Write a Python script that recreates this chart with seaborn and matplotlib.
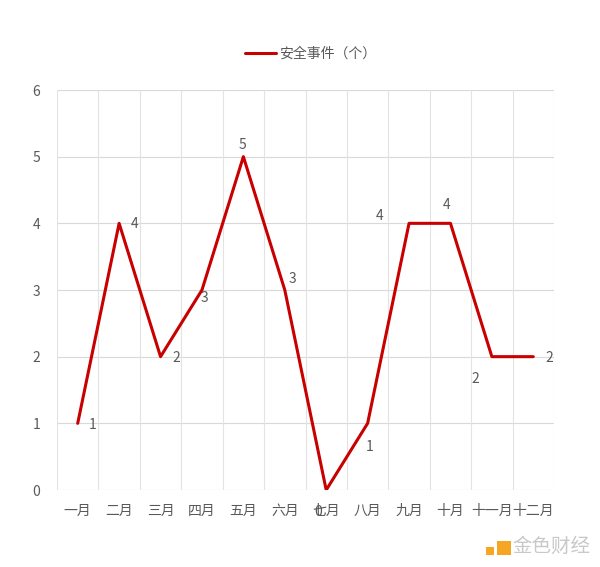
import matplotlib
matplotlib.use("Agg")
import matplotlib.pyplot as plt
import seaborn as sns
import pandas as pd
from matplotlib.patches import Rectangle

months = ["一月", "二月", "三月", "四月", "五月", "六月", "七月", "八月", "九月", "十月", "十一月", "十二月"]
events = [1, 4, 2, 3, 5, 3, 0, 1, 4, 4, 2, 2]
series_name = "安全事件（个）"
y_ticks = [0, 1, 2, 3, 4, 5, 6]

# label offsets in pixels (dx, dy) relative to each point
label_offsets = [(15, -2), (15, -1), (16, -1), (2, -8), (-1, 12), (8, 11),
                 (-8, -22), (2, -24), (-29, 7), (-4, 18), (-17, -22), (16, -1)]

sns.set_theme(style="white")
plt.rcParams['font.family'] = ['Noto Sans CJK SC', 'DejaVu Sans']

df = pd.DataFrame({"month": months, "value": events})

fig = plt.figure(figsize=(6, 5.67), dpi=100)
ax = fig.add_axes([57/600, 1-490/567, (554-57)/600, 400/567])

sns.lineplot(data=df, x="month", y="value", ax=ax, color="#C80000", linewidth=2.2,
             sort=False, label=series_name)

ax.set_xlim(-0.5, len(months) - 0.5)
ax.set_ylim(0, 6)
ax.set_yticks(y_ticks)
ax.set_yticklabels([str(t) for t in y_ticks])
ax.set_xticks(range(len(months)))
ax.set_xticklabels(months)
ax.set_xlabel("")
ax.set_ylabel("")

# gridlines: horizontal at integers, vertical at category boundaries
for y in y_ticks:
    ax.axhline(y, color="#D9D9D9", linewidth=0.8, zorder=0)
for i in range(len(months) + 1):
    ax.axvline(i - 0.5, color="#E3E3E3", linewidth=0.8, zorder=0)

for s in ax.spines.values():
    s.set_visible(False)
ax.tick_params(axis="both", length=0, colors="#595959", labelsize=10)
ax.tick_params(axis="y", pad=12)
ax.tick_params(axis="x", pad=10)

for i, (v, off) in enumerate(zip(events, label_offsets)):
    ax.annotate(str(v), (i, v), xytext=off, textcoords="offset pixels",
                ha="center", va="center", fontsize=10, color="#595959")

leg = ax.legend(loc="upper center", bbox_to_anchor=(0.51, 1.14), frameon=False,
                fontsize=10, handlelength=2.2, handletextpad=0.2)
for t in leg.get_texts():
    t.set_color("#595959")

# watermark
fig.patches.append(Rectangle((497/600, 1-555/567), 14/600, 14/567, transform=fig.transFigure,
                             facecolor="#F5A623", edgecolor="none"))
fig.patches.append(Rectangle((486/600, 1-555/567), 8/600, 8/567, transform=fig.transFigure,
                             facecolor="#F5A623", edgecolor="none"))
fig.text(512/600, 1-546/567, "金色财经", fontsize=14, color="#C8C8C8", va="center", ha="left")

fig.savefig("out.png", dpi=100, facecolor="white")
